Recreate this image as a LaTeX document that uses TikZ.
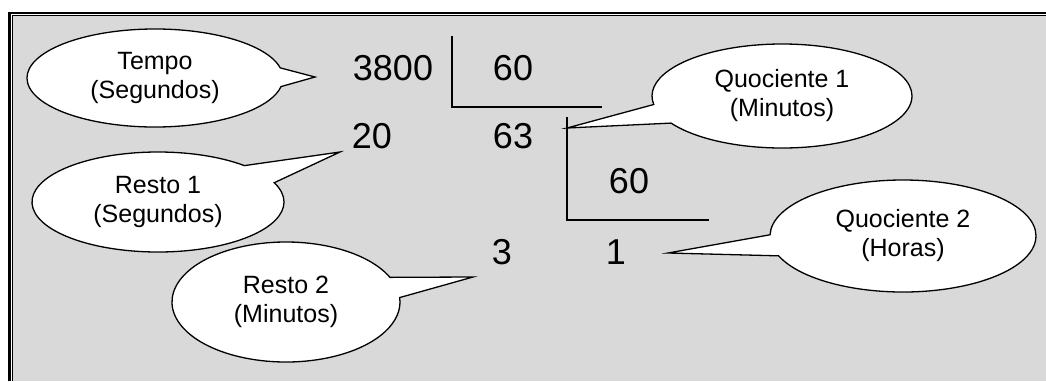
\documentclass[tikz,border=0pt]{standalone}
\usepackage{fontspec}
\setmainfont{Liberation Sans}
\usepackage{xcolor}
\usetikzlibrary{shapes.callouts,positioning}

\definecolor{panelgray}{RGB}{217,217,217}

\begin{document}
\begin{tikzpicture}[
    x=1pt, y=-1pt, % Koordinaten in Bildpunkten, y nach unten
    % Stil für die Zahlen der Division
    numbox/.style={
      inner sep=0pt,
      font=\fontsize{36}{40}\selectfont
    },
    % Stil für die Sprechblasen
    callbox/.style={
      ellipse callout,
      draw=black,
      line width=1.3pt,
      fill=white,
      inner sep=0pt,
      align=center,
      font=\fontsize{25}{29}\selectfont
    },
    % Stil für die Striche der Division
    divline/.style={
      line width=1.3pt
    }
  ]

  \useasboundingbox (0,0) rectangle (1046,381);

  % --- RAHMEN ---
  \fill[panelgray] (13,16) rectangle (1046,381);
  \draw[line width=2.5pt] (9.5,381) -- (9.5,13) -- (1046,13);
  \draw[line width=1pt] (12.5,381) -- (12.5,15.5) -- (1046,15.5);

  % --- ZAHLEN ---
  \node[numbox] (dividend) at (393,68) {3800};
  \node[numbox] (divisor1) at (513,68) {60};
  \node[numbox] (rest1) at (372,136) {20};
  \node[numbox] (quot1) at (513,136) {63};
  \node[numbox] (divisor2) at (629,181) {60};
  \node[numbox] (rest2) at (502,252) {3};
  \node[numbox] (quot2) at (616,252) {1};

  % Divisionsstriche
  \draw[divline] (452,36) -- (452,107) -- (602,107);
  \draw[divline] (567,117) -- (567,220) -- (709,220);

  % --- SPRECHBLASEN ---
  \coordinate (tempo tip) at (315,77);
  \coordinate (resto1 tip) at (340,152);
  \coordinate (quoc1 tip) at (567,128);
  \coordinate (resto2 tip) at (473,277);
  \coordinate (quoc2 tip) at (668,253);

  \node[callbox, minimum width=256pt, minimum height=98pt,
    callout absolute pointer=(tempo tip), callout pointer arc=22] (tempo) at (155,78) {Tempo\\(Segundos)};
  \node[callbox, minimum width=252pt, minimum height=100pt,
    callout absolute pointer=(resto1 tip), callout pointer arc=24] (resto1) at (158,202) {Resto 1\\(Segundos)};
  \node[callbox, minimum width=260pt, minimum height=104pt,
    callout absolute pointer=(quoc1 tip), callout pointer arc=22] (quoc1) at (782,96) {Quociente 1\\(Minutos)};
  \node[callbox, minimum width=228pt, minimum height=120pt,
    callout absolute pointer=(resto2 tip), callout pointer arc=20] (resto2) at (286,302) {Resto 2\\(Minutos)};
  \node[callbox, minimum width=266pt, minimum height=112pt,
    callout absolute pointer=(quoc2 tip), callout pointer arc=22] (quoc2) at (903,236) {Quociente 2\\(Horas)};

\end{tikzpicture}
\end{document}
